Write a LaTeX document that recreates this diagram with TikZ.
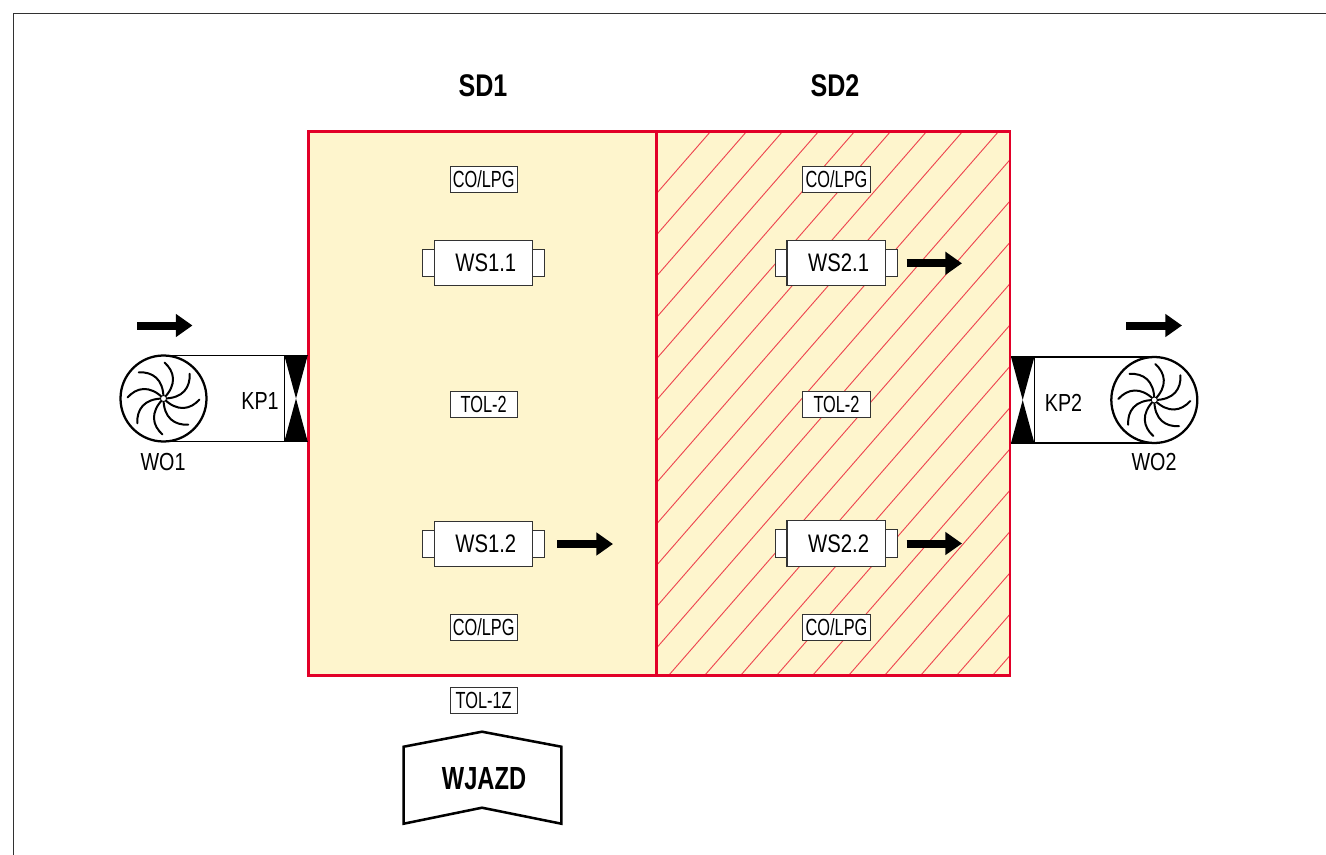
\documentclass[tikz,border=0pt]{standalone}
\usepackage{fontspec}
\setmainfont[FakeStretch=0.8]{Liberation Sans}
\newfontfamily\tagfont[FakeStretch=0.7]{Liberation Sans}
\newfontfamily\wjazdfont[FakeStretch=0.74]{Liberation Sans}
\usetikzlibrary{arrows.meta, positioning}
\definecolor{sdred}{RGB}{226,0,40}
\definecolor{sdhatch}{RGB}{238,70,80}
\definecolor{sdfill}{RGB}{254,245,205}
\definecolor{framegray}{RGB}{50,50,50}

\begin{document}
\begin{tikzpicture}[
    x=0.75pt, y=-0.75pt,
    zone/.style={draw=sdred, fill=sdfill, line width=2pt, minimum width=261pt,
                 minimum height=408pt, inner sep=0pt, outer sep=0pt},
    title/.style={font=\fontsize{23.5}{26}\selectfont\bfseries},
    tag/.style={draw=black!80, fill=white, line width=0.6pt, minimum width=50.6pt,
                minimum height=19.2pt, inner sep=0pt, font=\fontsize{17.5}{19}\selectfont\tagfont},
    station/.style={draw=black!80, fill=white, line width=0.8pt, minimum width=74pt,
                    minimum height=34.3pt, inner sep=0pt, font=\fontsize{19}{21}\selectfont,
                    execute at begin node={\hspace*{3.5pt}}},
    tabs/.style={draw=black!80, fill=white, line width=0.6pt, minimum width=92pt,
                 minimum height=20.5pt, inner sep=0pt},
    fan/.style={circle, draw, line width=1.7pt, minimum size=64.5pt, inner sep=0pt, outer sep=0pt},
    damper/.style={minimum width=17.5pt, minimum height=64.5pt, inner sep=0pt, outer sep=0pt,
                   path picture={
                     \fill (path picture bounding box.north west) -- (path picture bounding box.north east)
                        -- (path picture bounding box.center) -- cycle;
                     \fill (path picture bounding box.south west) -- (path picture bounding box.south east)
                        -- (path picture bounding box.center) -- cycle;}},
    duct/.style={line width=1.1pt},
    flow/.style={-{Triangle[length=12.4pt,width=16.5pt]}, line width=6pt},
    label/.style={font=\fontsize{18.5}{20}\selectfont},
    blades/.pic={
      \foreach \a in {0,45,...,315}
        \draw[rotate=\a, line width=1.5pt, line cap=round]
          (0,0) .. controls (14,-14) and (11,-27) .. (1,-36);
      \filldraw[fill=white, line width=0.6pt] (0,0) circle (3);
    }
  ]
    \useasboundingbox (0,0) rectangle (1326,855);
    \draw[framegray, line width=1.1pt] (1326,13.5) -- (13.5,13.5) -- (13.5,855);

    \node[title] (sd1t) at (483,86) {SD1};
    \node[title] (sd2t) at (835,86) {SD2};

    \node[zone] (sd1) at (482.7,403.3) {};
    \node[zone, minimum width=265pt] (sd2) at (833.35,403.3) {};

    % hatching of the second zone
    \begin{scope}
      \clip (sd2.south west) rectangle (sd2.north east);
      \foreach \k in {0,...,21}
        \draw[sdhatch, line width=0.7pt] ({711+36*\k},131) -- ({711+36*\k-474},675);
    \end{scope}
    \draw[sdred, line width=2pt] (sd2.south west) rectangle (sd2.north east);

    \node[tag] (c11) at (483.7,179.5) {CO/LPG};
    \node[tag] (t1) at (483.7,404.5) {TOL-2};
    \node[tag] (c12) at (483.7,627.5) {CO/LPG};
    \node[tag] (t1z) at (483.7,700.3) {TOL-1Z};
    \node[tag] (c21) at (836.5,179.5) {CO/LPG};
    \node[tag] (t2) at (836.5,404.5) {TOL-2};
    \node[tag] (c22) at (836.5,627.5) {CO/LPG};

    \node[tabs] (ws11t) at (483.5,263) {};
    \node[station] (ws11) at (483.5,263) {WS1.1};
    \node[tabs] (ws12t) at (483.5,544) {};
    \node[station] (ws12) at (483.5,544) {WS1.2};
    \node[tabs] (ws21t) at (836.3,263) {};
    \node[station] (ws21) at (836.3,263) {WS2.1};
    \node[tabs] (ws22t) at (836.3,543.5) {};
    \node[station] (ws22) at (836.3,543.5) {WS2.2};

    % fans and dampers
    \node[fan] (wo1) at (163.5,398.5) {};
    \pic at (wo1) {blades};
    \node[damper] (kp1) at (296,398.5) {};
    \draw[duct] (wo1.north) -- (kp1.north east);
    \draw[duct] (wo1.south) -- (kp1.south east);
    \draw[duct] (kp1.north west) -- (kp1.south west);
    \node[label] (kp1l) at (260,401) {KP1};
    \node[label] (wo1l) at (163,462) {WO1};

    \node[fan] (wo2) at (1154.3,400) {};
    \pic at (wo2) {blades};
    \node[damper] (kp2) at (1022.7,400) {};
    \draw[duct] (wo2.north) -- (kp2.north west);
    \draw[duct] (wo2.south) -- (kp2.south west);
    \draw[duct] (kp2.north east) -- (kp2.south east);
    \node[label] (kp2l) at (1063.5,403) {KP2};
    \node[label] (wo2l) at (1154,462) {WO2};

    % flow arrows
    \coordinate (f1a) at (137,325.5);
    \coordinate (f1b) at (192.5,325.5);
    \coordinate (f2a) at (1126,325.5);
    \coordinate (f2b) at (1182,325.5);
    \coordinate (f3a) at (906.7,263.3);
    \coordinate (f3b) at (962,263.3);
    \coordinate (f4a) at (557,544);
    \coordinate (f4b) at (613,544);
    \coordinate (f5a) at (906.7,543.5);
    \coordinate (f5b) at (962,543.5);
    \draw[flow] (f1a) -- (f1b);
    \draw[flow] (f2a) -- (f2b);
    \draw[flow] (f3a) -- (f3b);
    \draw[flow] (f4a) -- (f4b);
    \draw[flow] (f5a) -- (f5b);

    % entrance
    \node[title, font=\fontsize{24}{26}\selectfont\wjazdfont\bfseries] (wjazd) at (484,779) {WJAZD};
    \draw[line width=1.9pt] (403.7,746.7) -- (482,731.7) -- (561.3,746.7) -- (561.3,823.7)
      -- (482,807.7) -- (403.7,823.7) -- cycle;
  \end{tikzpicture}
\end{document}
